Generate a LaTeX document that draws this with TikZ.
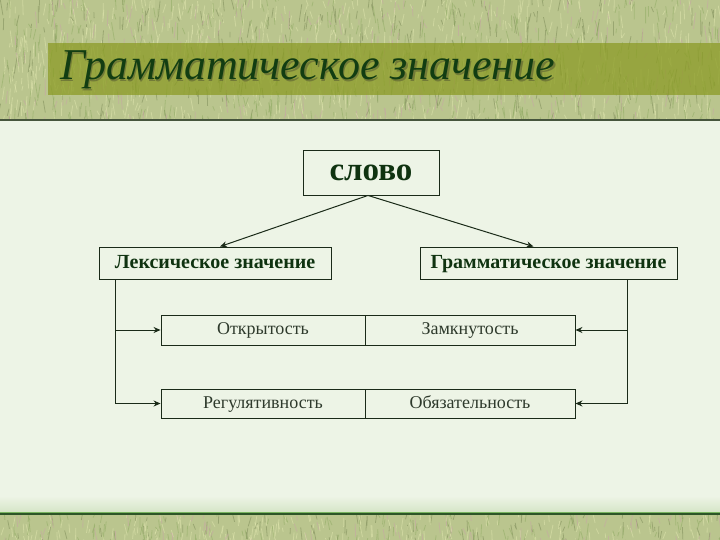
\documentclass[tikz,border=0pt]{standalone}
\usepackage{fontspec}
\setmainfont{Liberation Serif}
\usetikzlibrary{arrows.meta}
\definecolor{bgl}{HTML}{EDF4E6}
\definecolor{bgd}{HTML}{D6E6C8}
\definecolor{grassbase}{HTML}{BAC58E}
\definecolor{gLight}{HTML}{E2E8B0}
\definecolor{gGreen}{HTML}{8EAA62}
\definecolor{gPink}{HTML}{C9A3A8}
\definecolor{gDark}{HTML}{7A8856}
\definecolor{barol}{HTML}{8A9A22}
\definecolor{ttl}{HTML}{123D12}
\definecolor{ttlsh}{HTML}{5A5F32}
\definecolor{ink}{HTML}{1A2A18}
\definecolor{boldink}{HTML}{0F3310}
\definecolor{rowink}{HTML}{2E3A2C}
\definecolor{lineA}{HTML}{78B45F}
\definecolor{lineB}{HTML}{2D5528}
\definecolor{lineC}{HTML}{46553C}
\tikzset{
  box/.style={draw=ink, line width=0.9pt, fill=bgl, inner sep=0pt, anchor=center},
  bigtxt/.style={font=\fontsize{33}{35}\selectfont\bfseries, text=boldink, text height=23pt, text depth=7pt},
  midtxt/.style={font=\fontsize{20}{22}\selectfont\bfseries, text=boldink, text height=14pt, text depth=3pt},
  rowtxt/.style={font=\fontsize{18}{20}\selectfont, text=rowink, text height=12.6pt, text depth=3pt},
  arr/.style={draw=ink, line width=1pt, -{Stealth[length=7pt,width=6pt]}},
}
\begin{document}
\begin{tikzpicture}[x=1pt,y=-1pt]
\useasboundingbox (0,0) rectangle (720,540);
\fill[bgl] (0,0) rectangle (720,540);
% top grass band
\pgfmathsetseed{11}
\begin{scope}
\clip (0,0) rectangle (720,120);
\fill[grassbase] (0,0) rectangle (720,120);
\foreach \c/\n in {gDark/300,gGreen/450,gPink/260,gLight/650}{
  \foreach \i in {1,...,\n}{
    \pgfmathsetmacro\gx{rnd*720}
    \pgfmathsetmacro\gy{rnd*130-10}
    \pgfmathsetmacro\gl{4+rnd*14}
    \pgfmathsetmacro\gd{rnd*6-3}
    \draw[\c, line width=0.8pt, opacity=0.5] (\gx,\gy) -- ++(\gd,\gl);
  }
}
\end{scope}
% bottom band
\shade[top color=bgl, bottom color=bgd] (0,496) rectangle (720,511.5);
\begin{scope}
\clip (0,514) rectangle (720,540);
\fill[grassbase] (0,514) rectangle (720,540);
\foreach \c/\n in {gDark/90,gGreen/130,gPink/70,gLight/190}{
  \foreach \i in {1,...,\n}{
    \pgfmathsetmacro\gx{rnd*720}
    \pgfmathsetmacro\gy{510+rnd*32}
    \pgfmathsetmacro\gl{4+rnd*10}
    \pgfmathsetmacro\gd{rnd*6-3}
    \draw[\c, line width=0.8pt, opacity=0.5] (\gx,\gy) -- ++(\gd,\gl);
  }
}
\end{scope}
\fill[lineA] (0,511.5) rectangle (720,513);
\fill[lineB] (0,513) rectangle (720,514.5);
% line under header
\fill[lineC] (0,119.5) rectangle (720,121);
% title bar
\fill[barol, opacity=0.72] (48,43) rectangle (720,95);
\node[anchor=west, inner sep=0pt, text=ttlsh, opacity=0.6,
      font=\fontsize{44}{46}\selectfont\itshape] (titleshadow) at (61.5,71.5) {Грамматическое значение};
\node[anchor=west, inner sep=0pt, text=ttl,
      font=\fontsize{44}{46}\selectfont\itshape] (title) at (60,70) {Грамматическое значение};
% nodes
\node[box, bigtxt, minimum width=136pt, minimum height=45pt] (slovo) at (371,172.5) {слово};
\node[box, midtxt, minimum width=232pt, minimum height=32pt] (lex) at (215,263) {Лексическое значение};
\node[box, midtxt, minimum width=257pt, minimum height=32pt] (gram) at (548.5,263) {Грамматическое значение};
\node[box, rowtxt, minimum width=204pt, minimum height=30pt] (r1a) at (263,330) {Открытость};
\node[box, rowtxt, minimum width=210pt, minimum height=30pt] (r1b) at (470,330) {Замкнутость};
\node[box, rowtxt, minimum width=204pt, minimum height=29pt] (r2a) at (263,403.5) {Регулятивность};
\node[box, rowtxt, minimum width=210pt, minimum height=29pt] (r2b) at (470,403.5) {Обязательность};
% connectors
\draw[arr] ([xshift=-3pt]slovo.south) -- ([xshift=5pt]lex.north);
\draw[arr] ([xshift=-3pt]slovo.south) -- ([xshift=-15pt]gram.north);
\draw[arr] ([xshift=17pt]lex.south west) |- (r2a.west);
\draw[arr] ([xshift=17pt]lex.south west |- r1a.west) -- (r1a.west);
\draw[arr] ([xshift=-50pt]gram.south east) |- (r2b.east);
\draw[arr] ([xshift=-50pt]gram.south east |- r1b.east) -- (r1b.east);
\end{tikzpicture}
\end{document}
